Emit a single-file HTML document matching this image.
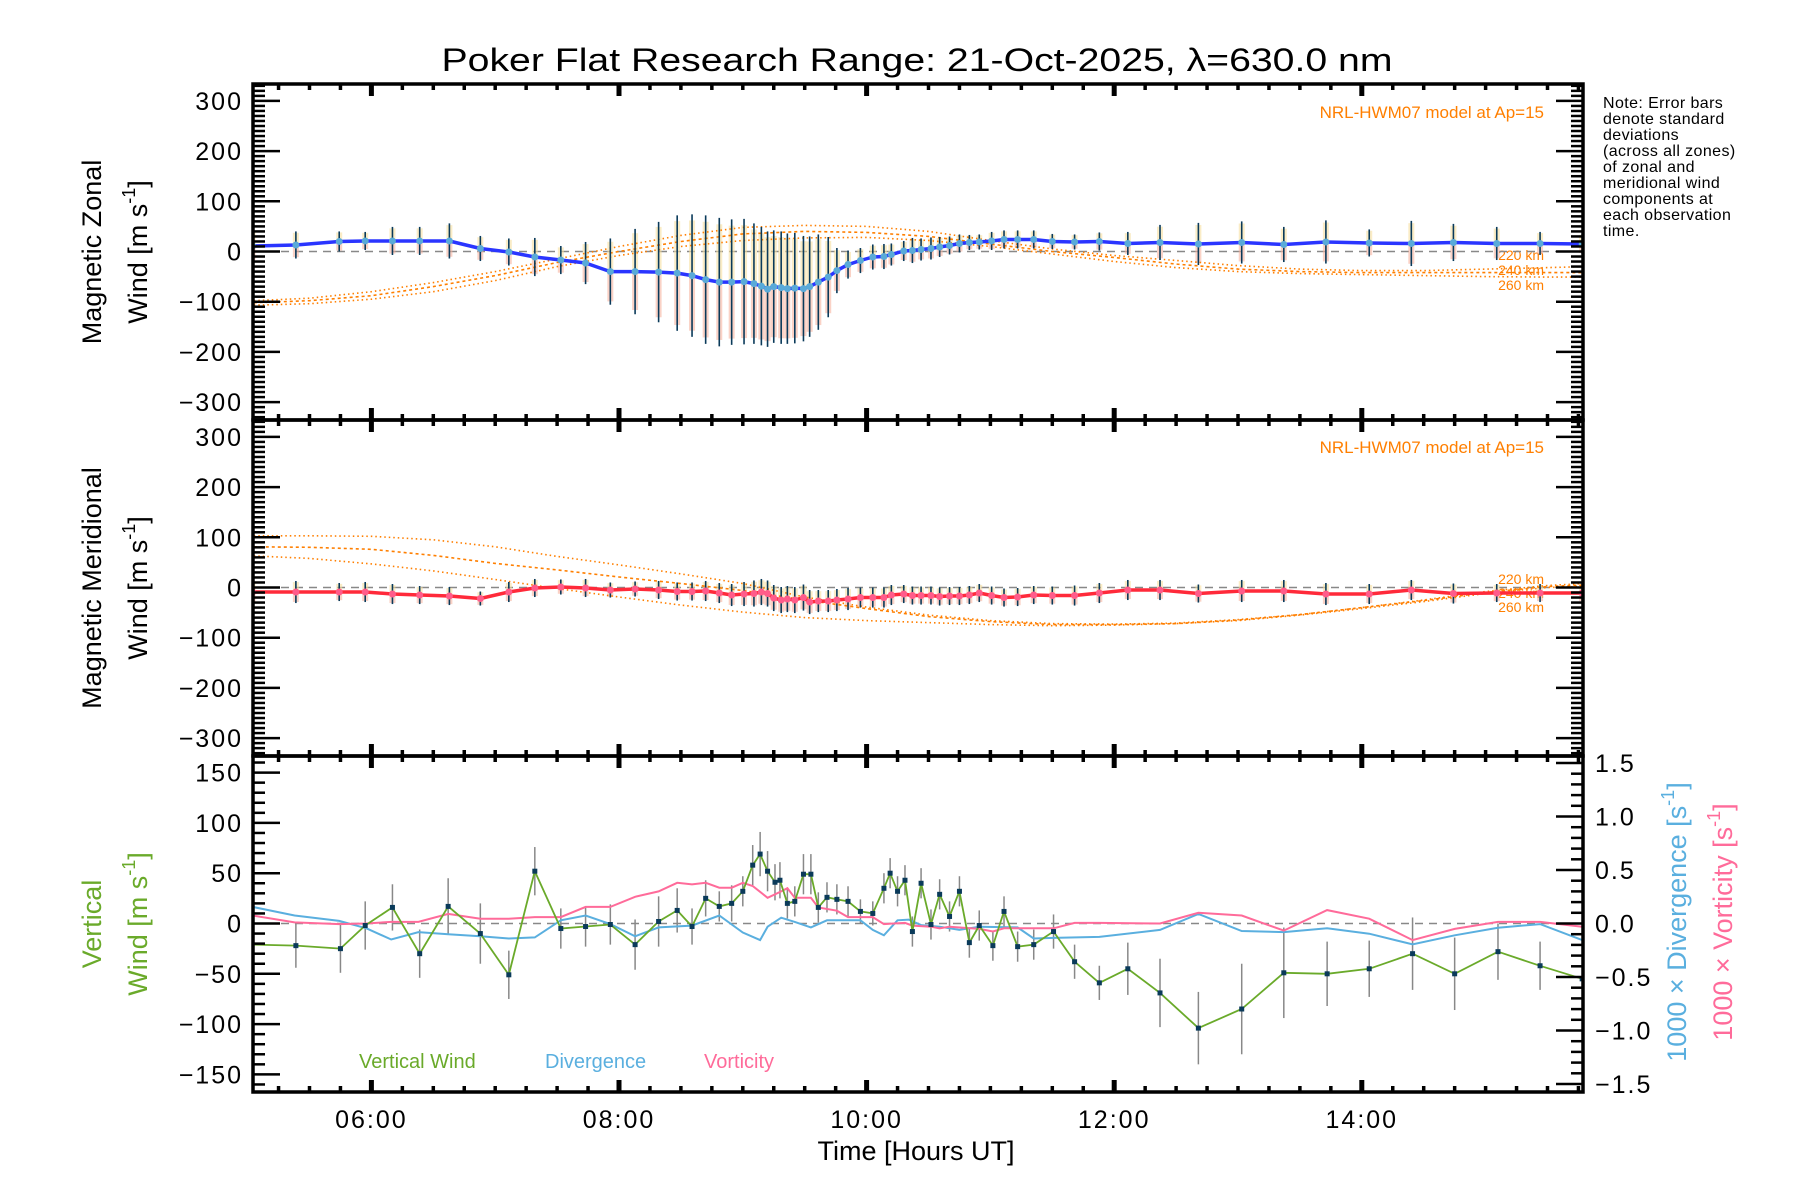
<!DOCTYPE html>
<html><head><meta charset="utf-8"><title>Poker Flat Research Range winds</title>
<style>
html,body{margin:0;padding:0;background:#fff;}
svg{display:block;font-family:"Liberation Sans",sans-serif;}
</style></head>
<body>
<svg id="chart" xmlns="http://www.w3.org/2000/svg" width="1800" height="1200" viewBox="0 0 1800 1200">
<rect x="0" y="0" width="1800" height="1200" fill="#fff"/>
<defs>
<clipPath id="c1"><rect x="253" y="84" width="1330" height="336"/></clipPath>
<clipPath id="c2"><rect x="253" y="420" width="1330" height="336"/></clipPath>
<clipPath id="c3"><rect x="253" y="756" width="1330" height="336"/></clipPath>
</defs>
<text x="917" y="71" text-anchor="middle" font-size="32" textLength="951" lengthAdjust="spacingAndGlyphs">Poker Flat Research Range: 21-Oct-2025, λ=630.0 nm</text>
<g font-size="27" text-anchor="middle">
<text transform="translate(101,252) rotate(-90)">Magnetic Zonal</text>
<text transform="translate(147,252) rotate(-90)">Wind [m s<tspan dy="-12" font-size="18">-1</tspan><tspan dy="12">]</tspan></text>
<text transform="translate(101,588) rotate(-90)">Magnetic Meridional</text>
<text transform="translate(147,588) rotate(-90)">Wind [m s<tspan dy="-12" font-size="18">-1</tspan><tspan dy="12">]</tspan></text>
<text transform="translate(101,924) rotate(-90)" fill="#6aaa2a">Vertical</text>
<text transform="translate(147,924) rotate(-90)" fill="#6aaa2a">Wind [m s<tspan dy="-12" font-size="18">-1</tspan><tspan dy="12">]</tspan></text>
<text transform="translate(1686,922) rotate(-90)" fill="#5aafdf">1000 × Divergence [s<tspan dy="-12" font-size="18">-1</tspan><tspan dy="12">]</tspan></text>
<text transform="translate(1732,922) rotate(-90)" fill="#ff6b9a">1000 × Vorticity [s<tspan dy="-12" font-size="18">-1</tspan><tspan dy="12">]</tspan></text>
</g>
<text x="916" y="1160" text-anchor="middle" font-size="27">Time [Hours UT]</text>
<g font-size="16" letter-spacing="0.4">
<text x="1603" y="108">Note: Error bars</text>
<text x="1603" y="124">denote standard</text>
<text x="1603" y="140">deviations</text>
<text x="1603" y="156">(across all zones)</text>
<text x="1603" y="172">of zonal and</text>
<text x="1603" y="188">meridional wind</text>
<text x="1603" y="204">components at</text>
<text x="1603" y="220">each observation</text>
<text x="1603" y="236">time.</text>
</g>
<g font-size="17" fill="#ff7f00" text-anchor="end">
<text x="1544" y="118">NRL-HWM07 model at Ap=15</text>
<text x="1544" y="453">NRL-HWM07 model at Ap=15</text>
<text x="1544" y="260" font-size="14">220 km</text>
<text x="1544" y="275" font-size="14">240 km</text>
<text x="1544" y="290" font-size="14">260 km</text>
<text x="1544" y="584" font-size="14">220 km</text>
<text x="1544" y="598" font-size="14">240 km</text>
<text x="1544" y="612" font-size="14">260 km</text>
</g>
<g font-size="20">
<text x="359" y="1068" fill="#6aaa2a">Vertical Wind</text>
<text x="545" y="1068" fill="#5aafdf">Divergence</text>
<text x="704" y="1068" fill="#ff6b9a">Vorticity</text>
</g>
<g id="marks"></g>
<g id="axes"></g>
</svg>
<script>
// ---- data ----
const times = [5.04,5.39,5.74,5.95,6.17,6.39,6.63,6.88,7.11,7.32,7.53,7.73,7.93,8.13,8.32,8.47,8.59,8.70,8.81,8.91,9.01,9.09,9.15,9.20,9.25,9.31,9.36,9.42,9.49,9.54,9.61,9.69,9.76,9.85,9.95,10.05,10.14,10.20,10.30,10.37,10.44,10.52,10.59,10.67,10.75,10.83,10.91,11.01,11.11,11.22,11.35,11.50,11.68,11.88,12.11,12.37,12.68,13.03,13.37,13.71,14.06,14.40,14.74,15.09,15.44,15.78];
const zonal = [11,13,20,21,21,21,21,6,-1,-11,-17,-23,-40,-40,-41,-43,-48,-56,-61,-61,-60,-64,-69,-75,-70,-72,-74,-73,-74,-70,-61,-51,-38,-26,-18,-11,-10,-6,1,2,4,6,9,12,16,18,19,21,24,24,24,20,19,20,16,18,15,18,14,19,17,16,18,16,16,15];
const zonalErr = [30,27,20,18,28,28,35,25,27,38,28,42,66,85,100,115,122,128,128,125,125,120,118,115,112,112,110,110,105,100,95,80,45,28,25,25,25,22,20,25,22,22,20,18,18,15,15,18,18,18,18,15,15,18,23,35,42,42,35,43,27,45,37,33,23,20];
const merid = [-9,-9,-9,-9,-13,-15,-17,-22,-9,-1,1,-1,-5,-3,-5,-8,-8,-7,-11,-15,-13,-12,-9,-12,-21,-25,-23,-25,-20,-29,-27,-27,-25,-23,-20,-20,-20,-15,-13,-16,-16,-16,-18,-17,-17,-15,-11,-16,-20,-19,-15,-16,-16,-11,-5,-5,-12,-7,-7,-13,-13,-5,-12,-11,-11,-11];
const meridErr = [22,22,18,20,20,18,18,14,20,18,15,18,15,15,18,18,18,20,20,22,24,26,26,26,26,26,26,26,26,24,22,22,22,22,20,20,20,20,18,18,18,18,18,18,18,18,18,18,18,18,18,18,20,20,20,20,18,22,22,22,20,20,20,18,18,18];
const modelTimes = [5.05,5.5,6,6.5,7,7.5,8,8.5,9,9.5,10,10.5,11,11.5,12,12.5,13,13.5,14,14.5,15,15.5,15.8];
const zonal220 = [-98,-93,-80,-62,-40,-15,10,32,48,52,50,40,22,5,-8,-18,-28,-35,-38,-38,-35,-32,-30];
const zonal240 = [-102,-98,-88,-70,-48,-22,0,20,35,40,38,30,15,0,-12,-25,-35,-40,-42,-42,-42,-42,-42];
const zonal260 = [-107,-104,-95,-80,-58,-30,-8,10,22,27,28,22,10,-5,-20,-32,-40,-44,-46,-48,-50,-51,-51];
const merid220 = [103,103,102,95,81,62,45,27,8,-19,-39,-55,-66,-72,-73,-71,-64,-54,-40,-25,-8,4,8];
const merid240 = [81,80,76,64,48,35,21,8,-6,-25,-42,-58,-68,-74,-74,-72,-65,-54,-40,-26,-10,2,5];
const merid260 = [63,58,47,33,16,-2,-19,-35,-49,-60,-66,-70,-74,-76,-75,-72,-66,-55,-42,-28,-12,0,2];
const vertTimes = [5.04,5.39,5.75,5.95,6.17,6.39,6.62,6.88,7.11,7.32,7.53,7.73,7.93,8.13,8.32,8.47,8.59,8.70,8.81,8.91,9.00,9.08,9.14,9.20,9.26,9.30,9.36,9.42,9.49,9.55,9.61,9.68,9.76,9.85,9.95,10.05,10.14,10.19,10.25,10.31,10.37,10.44,10.52,10.59,10.67,10.75,10.83,10.91,11.02,11.11,11.22,11.35,11.51,11.68,11.88,12.11,12.37,12.68,13.03,13.37,13.72,14.06,14.41,14.75,15.10,15.44,15.78];
const vertWind = [-21,-22,-25,-2,16,-30,17,-10,-51,52,-5,-3,-1,-21,2,13,-3,25,17,20,32,58,69,52,41,43,20,22,49,49,16,26,24,22,12,10,35,50,32,43,-8,40,-1,29,7,32,-19,-2,-22,12,-23,-21,-8,-38,-59,-45,-69,-104,-85,-49,-50,-45,-30,-50,-28,-42,-55];
const vertErr = [0,22,24,24,23,24,28,30,24,24,20,20,20,25,25,22,18,18,15,18,15,20,22,20,18,18,15,15,20,20,15,15,15,15,12,12,15,15,15,15,15,15,15,15,15,15,15,15,15,15,15,15,17,17,17,26,34,36,45,45,32,28,36,36,28,24,0];
const divTimes = [5.04,5.38,5.74,5.96,6.16,6.38,6.62,6.88,7.11,7.32,7.53,7.73,7.93,8.13,8.32,8.59,8.81,9.00,9.14,9.20,9.31,9.42,9.55,9.68,9.85,9.95,10.05,10.14,10.25,10.34,10.44,10.59,10.75,10.91,11.22,11.35,11.51,11.88,12.37,12.68,13.03,13.37,13.72,14.06,14.41,14.75,15.10,15.44,15.78];
const divergence = [0.155,0.075,0.024,-0.045,-0.15,-0.08,-0.10,-0.12,-0.14,-0.13,0.03,0.075,-0.006,-0.12,-0.036,-0.02,0.075,-0.084,-0.155,-0.03,0.054,0.015,-0.036,0.03,0.03,0.03,-0.06,-0.11,0.03,0.036,-0.015,-0.03,-0.06,-0.03,-0.036,-0.14,-0.135,-0.125,-0.06,0.09,-0.07,-0.08,-0.045,-0.095,-0.195,-0.11,-0.04,-0.006,-0.155];
const vortTimes = [5.04,5.38,5.74,5.96,6.16,6.38,6.62,6.88,7.11,7.32,7.53,7.73,7.93,8.13,8.32,8.47,8.59,8.70,8.81,8.91,9.00,9.08,9.20,9.31,9.36,9.42,9.55,9.61,9.76,9.85,10.05,10.14,10.31,10.37,10.52,10.59,10.67,10.91,11.02,11.11,11.51,11.68,11.88,12.37,12.68,13.03,13.37,13.72,14.06,14.41,14.75,15.10,15.44,15.78];
const vorticity = [0.075,0.01,-0.006,0,0.015,0.015,0.09,0.045,0.045,0.06,0.06,0.155,0.155,0.25,0.30,0.38,0.365,0.38,0.335,0.335,0.38,0.35,0.24,0.30,0.33,0.24,0.24,0.15,0.12,0.06,0.06,-0.006,0.006,-0.02,-0.03,-0.045,-0.03,-0.05,-0.075,-0.045,-0.045,0.006,0.006,0,0.10,0.075,-0.066,0.125,0.045,-0.155,-0.05,0.015,0.015,-0.03];
const hwTickLabels = ["-300","-200","-100","0","100","200","300"];
const vTickLabels = ["-150","-100","-50","0","50","100","150"];
const rTickLabels = ["-1.5","-1.0","-0.5","0.0","0.5","1.0","1.5"];
const xTickLabels = ["06:00","08:00","10:00","12:00","14:00"];

// ---- scales ----
const L=253, R=1583;
const P1={top:84,bot:420,zero:251.5,k:0.502};
const P2={top:420,bot:756,zero:587.5,k:0.502};
const P3={top:756,bot:1092,zero:923.5,k:1.006,kr:107};
function x(h){return 371.4+(h-6)*123.8;}
function y1(v){return P1.zero-v*P1.k;}
function y2(v){return P2.zero-v*P2.k;}
function y3(v){return P3.zero-v*P3.k;}
function y3r(v){return P3.zero-v*P3.kr;}

const NS="http://www.w3.org/2000/svg";
const marks=document.getElementById('marks');
const axes=document.getElementById('axes');
function mk(tag,attrs,parent){const e=document.createElementNS(NS,tag);for(const k in attrs)e.setAttribute(k,attrs[k]);parent.appendChild(e);return e;}
function pathD(xs,ys,fy){let d='';for(let i=0;i<xs.length;i++){d+=(i?'L':'M')+x(xs[i]).toFixed(1)+' '+fy(ys[i]).toFixed(1);}return d;}

const g1=mk('g',{'clip-path':'url(#c1)'},marks);


const g2=mk('g',{'clip-path':'url(#c2)'},marks);


const g3=mk('g',{'clip-path':'url(#c3)'},marks);



[[g1,P1.zero],[g2,P2.zero],[g3,P3.zero]].forEach(([g,yy])=>{
  const z=mk('line',{x1:L,x2:R,y1:yy,y2:yy,stroke:'#888','stroke-width':1.5,'stroke-dasharray':'8,6'},g);
  
  
});

function horizPanel(g,vals,errs,fy,lineColor,dotColor,models,nm){
  for(let i=0;i<times.length;i++){
    const xx=x(times[i]);
    const up=mk('rect',{x:xx-3,y:fy(vals[i]+errs[i]*0.9),width:6,height:errs[i]*0.9*P1.k,fill:'#f7dfa0',opacity:0.6},g);
    
    
    const dn=mk('rect',{x:xx-3,y:fy(vals[i]),width:6,height:errs[i]*0.9*P1.k,fill:'#f7b4a0',opacity:0.6},g);
    
    
  }
  models.forEach((m,j)=>{
    const p=mk('path',{d:pathD(modelTimes,m,fy),fill:'none',stroke:'#ff7f00','stroke-width':1.6,'stroke-dasharray':j==1?'3,3':'1.5,3'},g);
    
    
  });
  for(let i=0;i<times.length;i++){
    const xx=x(times[i]);
    const e=mk('line',{x1:xx,x2:xx,y1:fy(vals[i]+errs[i]),y2:fy(vals[i]-errs[i]),stroke:'#0a3a5a','stroke-width':1.6},g);
    
    
  }
  const ln=mk('path',{d:pathD(times,vals,fy),fill:'none',stroke:lineColor,'stroke-width':3.5,'stroke-linejoin':'round'},g);
  
  
  for(let i=0;i<times.length;i++){
    const c=mk('circle',{cx:x(times[i]),cy:fy(vals[i]),r:3.5,fill:dotColor},g);
    
    
  }
}
horizPanel(g1,zonal,zonalErr,y1,'#2a35ff','#5aaad8',[zonal220,zonal240,zonal260],'zonal');
horizPanel(g2,merid,meridErr,y2,'#ff2a3a','#ff5c8a',[merid220,merid240,merid260],'meridional');

for(let i=0;i<vertTimes.length;i++){
  if(!vertErr[i])continue;
  const xx=x(vertTimes[i]);
  const e=mk('line',{x1:xx,x2:xx,y1:y3(vertWind[i]+vertErr[i]),y2:y3(vertWind[i]-vertErr[i]),stroke:'#888','stroke-width':1.5},g3);
  
  
}
const dv=mk('path',{d:pathD(divTimes,divergence,y3r),fill:'none',stroke:'#5aafdf','stroke-width':2},g3);


const vo=mk('path',{d:pathD(vortTimes,vorticity,y3r),fill:'none',stroke:'#ff6b9a','stroke-width':2},g3);


const vwl=mk('path',{d:pathD(vertTimes,vertWind,y3),fill:'none',stroke:'#6aaa2a','stroke-width':1.8},g3);


for(let i=1;i<vertTimes.length;i++){
  const s=mk('rect',{x:x(vertTimes[i])-2.5,y:y3(vertWind[i])-2.5,width:5,height:5,fill:'#0a3a5a'},g3);
  
  
}

function tick(x1,y1_,x2,y2_,w,name){
  const t=mk('line',{x1:x1,y1:y1_,x2:x2,y2:y2_,stroke:'#000','stroke-width':w},axes);
  
  
}
function label(tx,ty,str,anchor,name){
  const t=mk('text',{x:tx,y:ty,'font-size':25,'text-anchor':anchor,'letter-spacing':2},axes);
  t.textContent=str.replace('-','\u2212');
  
  
}
[[P1,y1],[P2,y2]].forEach(([P,fy])=>{
  for(let v=-330;v<=330;v+=10){
    const yy=fy(v); if(yy<P.top+1||yy>P.bot-1)continue;
    const major=(v%100===0);
    const len=major?27:12;
    tick(L,yy,L+len,yy,2.5,'y-tick');
    tick(R,yy,R-len,yy,2.5,'y-tick-right');
  }
  hwTickLabels.forEach(s=>{label(243,fy(+s)+9,s,'end','y-tick-label');});
});
for(let v=-160;v<=160;v+=10){
  const yy=y3(v); if(yy<P3.top+1||yy>P3.bot-1)continue;
  tick(L,yy,L+(v%50===0?27:12),yy,2.5,'y-tick');
}
vTickLabels.forEach(s=>{label(243,y3(+s)+9,s,'end','y-tick-label');});
for(let k=-15;k<=15;k++){
  const yy=y3r(k/10); if(yy<P3.top+1||yy>P3.bot-1)continue;
  tick(R,yy,R-(k%5===0?27:12),yy,2.5,'right-y-tick');
}
rTickLabels.forEach(s=>{label(1595,y3r(+s)+9,s,'start','right-y-tick-label');});
[P1,P2,P3].forEach(P=>{
  for(let q=21;q<=63;q++){
    const h=q/4, xx=x(h); if(xx<L+2||xx>R-2)continue;
    const major=(q%8===0);
    const len=major?12:6;
    tick(xx,P.bot,xx,P.bot-len,major?5:3.5,'x-tick');
    tick(xx,P.top,xx,P.top+len,major?5:3.5,'x-tick');
  }
});
xTickLabels.forEach((s,i)=>{label(x(6+2*i),1128,s,'middle','x-tick-label');});
[P1,P2,P3].forEach(P=>{
  const fr=mk('rect',{x:L,y:P.top,width:R-L,height:P.bot-P.top,fill:'none',stroke:'#000','stroke-width':3.5},axes);
  
  
});
</script>
</body></html>
